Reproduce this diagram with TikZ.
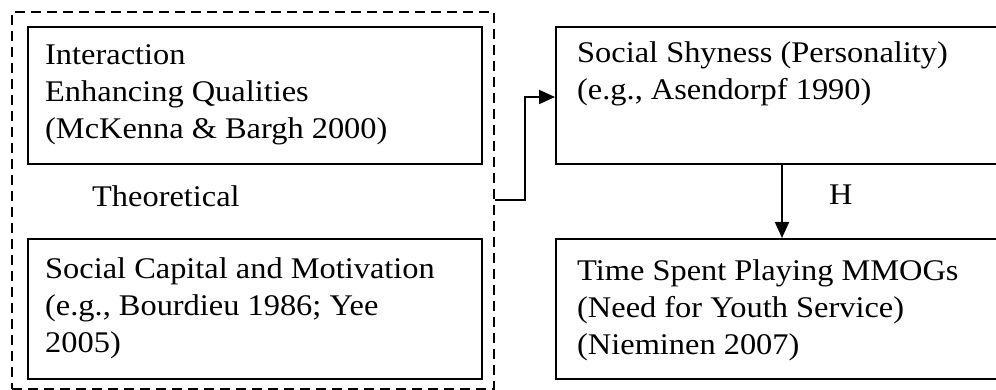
\documentclass[tikz,border=0pt]{standalone}
\usepackage{fontspec}
\setmainfont[FakeStretch=1.08]{Liberation Serif}
\usetikzlibrary{arrows.meta}
\tikzset{
  box/.style={draw, line width=2.2pt, anchor=north west, inner sep=0pt},
  txt/.style={anchor=base west, inner sep=0pt, align=left, font=\fontsize{30}{37}\selectfont},
  dashbox/.style={draw, line width=1.9pt, dash pattern=on 10pt off 6pt},
  conn/.style={draw, line width=2pt, -{Triangle[length=16pt,width=14pt]}}
}
\begin{document}
\begin{tikzpicture}[x=1pt,y=-1pt]
\useasboundingbox (0,0) rectangle (996,390);
\begin{scope}
\clip (0,0) rectangle (996,390);
% dashed container
\node[dashbox, anchor=north west, minimum width=482pt, minimum height=377pt, inner sep=0pt] (theo) at (11,11) {};
% left boxes
\node[box, minimum width=454pt, minimum height=137pt] (eiq) at (27,26) {};
\node[box, minimum width=454pt, minimum height=140pt] (scm) at (27,238) {};
% right boxes
\node[box, minimum width=480pt, minimum height=137pt] (shy) at (555,26) {};
\node[box, minimum width=480pt, minimum height=140pt] (time) at (555,238) {};
\end{scope}
% texts
\node[txt] (t1) at (45,65) {Interaction};
\node[txt] (t2) at (45,102) {Enhancing Qualities};
\node[txt] (t3) at (45,139) {(McKenna \& Bargh 2000)};
\node[txt] (lbl) at (92,207) {Theoretical};
\node[txt] (s1) at (45,278) {Social Capital and Motivation};
\node[txt] (s2) at (45,315) {(e.g., Bourdieu 1986; Yee};
\node[txt] (s3) at (45,352) {2005)};
\node[txt] (y1) at (577,63) {Social Shyness (Personality)};
\node[txt] (y2) at (577,100) {(e.g., Asendorpf 1990)};
\node[txt] (m1) at (577,280) {Time Spent Playing MMOGs};
\node[txt] (m2) at (577,317) {(Need for Youth Service)};
\node[txt] (m3) at (577,354) {(Nieminen 2007)};
\node[txt] (h) at (829,205) {H};
% connectors
\coordinate (c1) at (525,200);
\coordinate (c2) at (525,97);
\draw[conn] (theo.east |- c1) -- (c1) -- (c2) -- (shy.west |- c2);
\draw[conn] (shy.south -| 782,0) -- (time.north -| 782,0);
\end{tikzpicture}
\end{document}
